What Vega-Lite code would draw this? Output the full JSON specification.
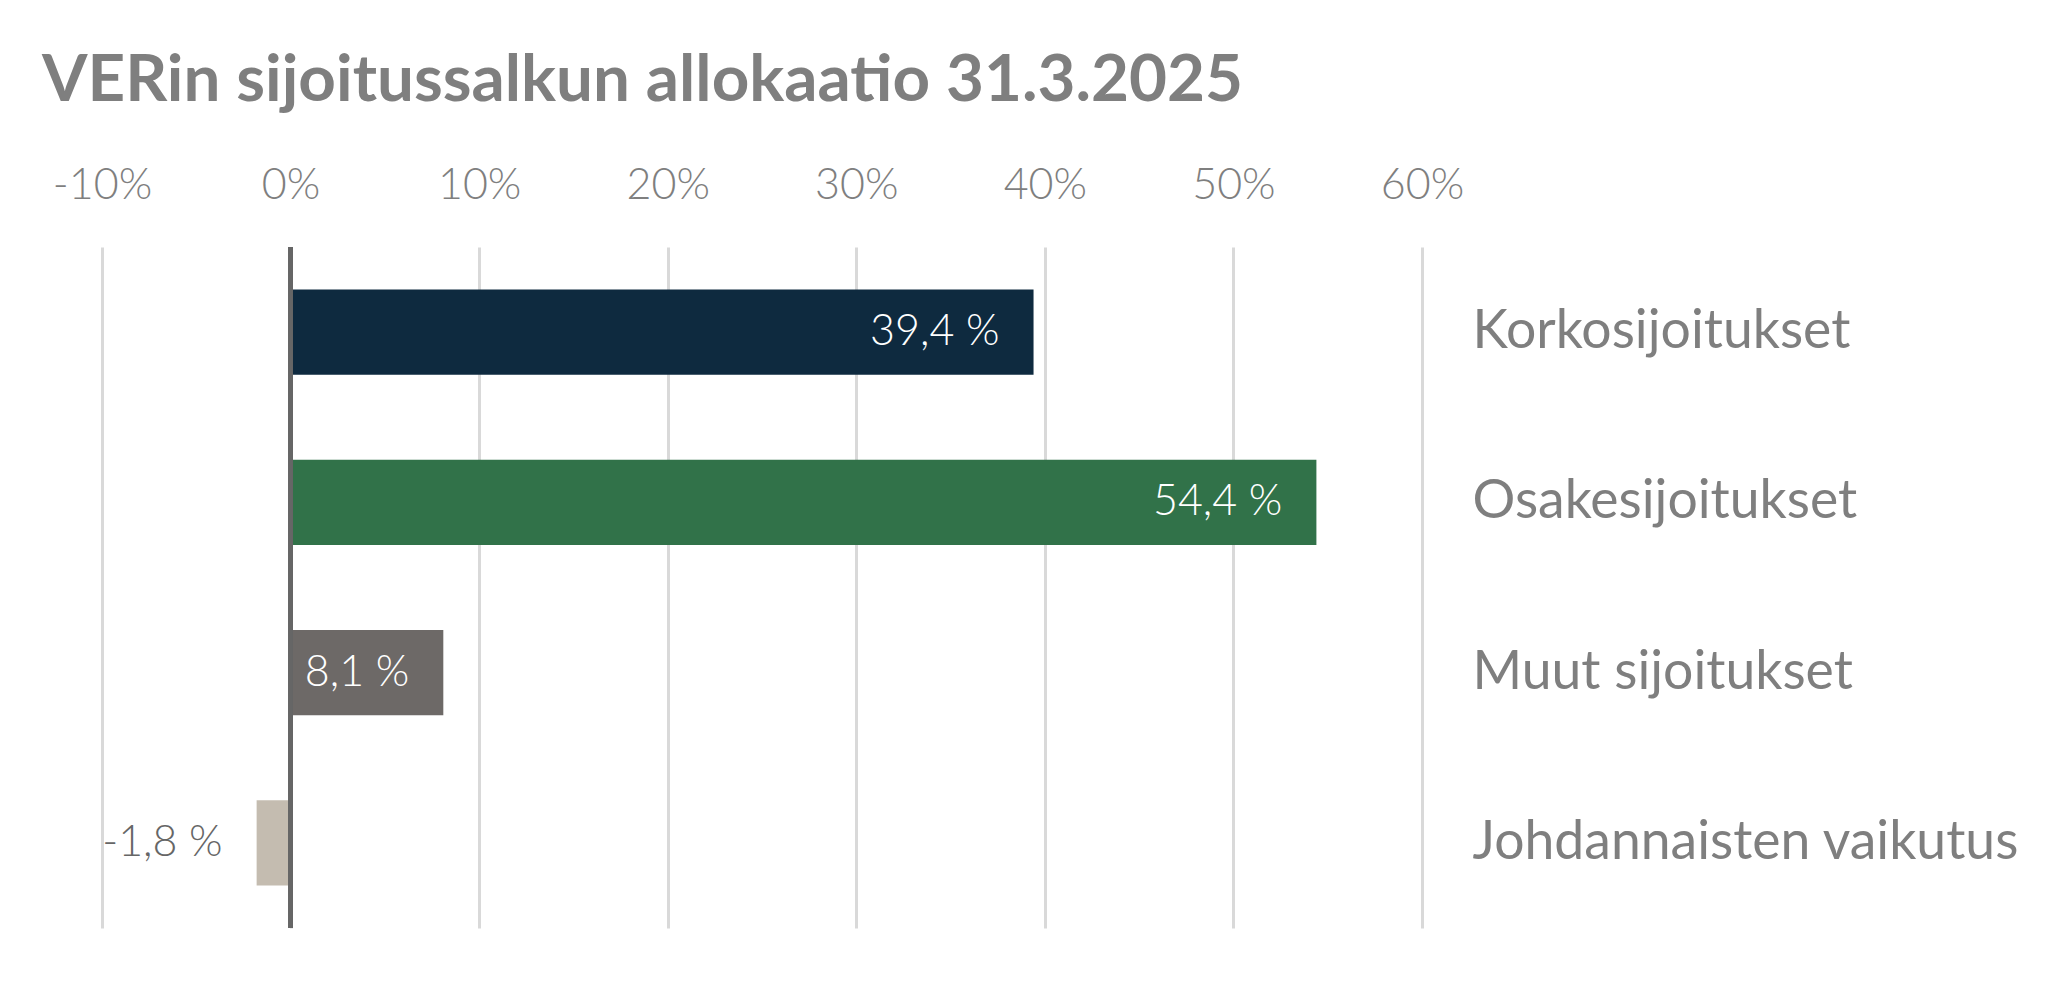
{
  "$schema": "https://vega.github.io/schema/vega-lite/v6.json",
  "autosize": {"type": "none"},
  "padding": {"left": 102, "top": 247, "right": 630, "bottom": 54},
  "width": 1320,
  "height": 681,
  "background": "white",
  "title": {
    "text": "VERin sijoitussalkun allokaatio 31.3.2025",
    "anchor": "start",
    "frame": "group",
    "dx": -60,
    "offset": 50,
    "font": "Lato",
    "fontSize": 65.5,
    "fontWeight": "bold",
    "color": "#7f7f7f"
  },
  "config": {
    "view": {"stroke": null},
    "font": "Lato"
  },
  "data": {
    "values": [
      {"category": "Korkosijoitukset", "value": 39.4, "label": "39,4 %"},
      {"category": "Osakesijoitukset", "value": 54.4, "label": "54,4 %"},
      {"category": "Muut sijoitukset", "value": 8.1, "label": "8,1 %"},
      {"category": "Johdannaisten vaikutus", "value": -1.8, "label": "-1,8 %"}
    ]
  },
  "encoding": {
    "y": {
      "field": "category",
      "type": "nominal",
      "sort": null,
      "title": null,
      "scale": {"paddingInner": 0.5, "paddingOuter": 0.25},
      "axis": {
        "orient": "right",
        "domain": false,
        "ticks": false,
        "grid": false,
        "labelAlign": "left",
        "labelPadding": 50,
        "labelFontSize": 53.5,
        "labelFont": "Lato",
        "labelColor": "#7f7f7f",
        "labelLimit": 700
      }
    }
  },
  "layer": [
    {
      "mark": {"type": "bar"},
      "encoding": {
        "x": {
          "field": "value",
          "type": "quantitative",
          "title": null,
          "scale": {"domain": [-10, 60], "nice": false, "zero": false},
          "axis": {
            "orient": "top",
            "values": [-10, 0, 10, 20, 30, 40, 50, 60],
            "labelExpr": "datum.value + '%'",
            "labelFlush": false,
            "labelOverlap": false,
            "domain": false,
            "ticks": false,
            "grid": true,
            "gridColor": "#d9d9d9",
            "gridWidth": 3,
            "labelPadding": 40,
            "labelFontSize": 43,
            "labelFont": "Lato",
            "labelFontWeight": 300,
            "labelColor": "#7f7f7f"
          }
        },
        "color": {
          "field": "category",
          "type": "nominal",
          "legend": null,
          "scale": {
            "domain": ["Korkosijoitukset", "Osakesijoitukset", "Muut sijoitukset", "Johdannaisten vaikutus"],
            "range": ["#0e2a3f", "#317249", "#6d6967", "#c4bcb0"]
          }
        }
      }
    },
    {
      "mark": {"type": "rule", "color": "#666666", "strokeWidth": 4.5},
      "encoding": {"x": {"datum": 0, "type": "quantitative"}, "y": null}
    },
    {
      "mark": {"type": "text", "align": "right", "baseline": "middle", "dx": -34, "fontSize": 43, "font": "Lato", "fontWeight": 300},
      "encoding": {
        "x": {"field": "value", "type": "quantitative"},
        "text": {"field": "label"},
        "color": {
          "condition": {"test": "datum.value < 0", "value": "#666666"},
          "value": "#ffffff"
        }
      }
    }
  ]
}
